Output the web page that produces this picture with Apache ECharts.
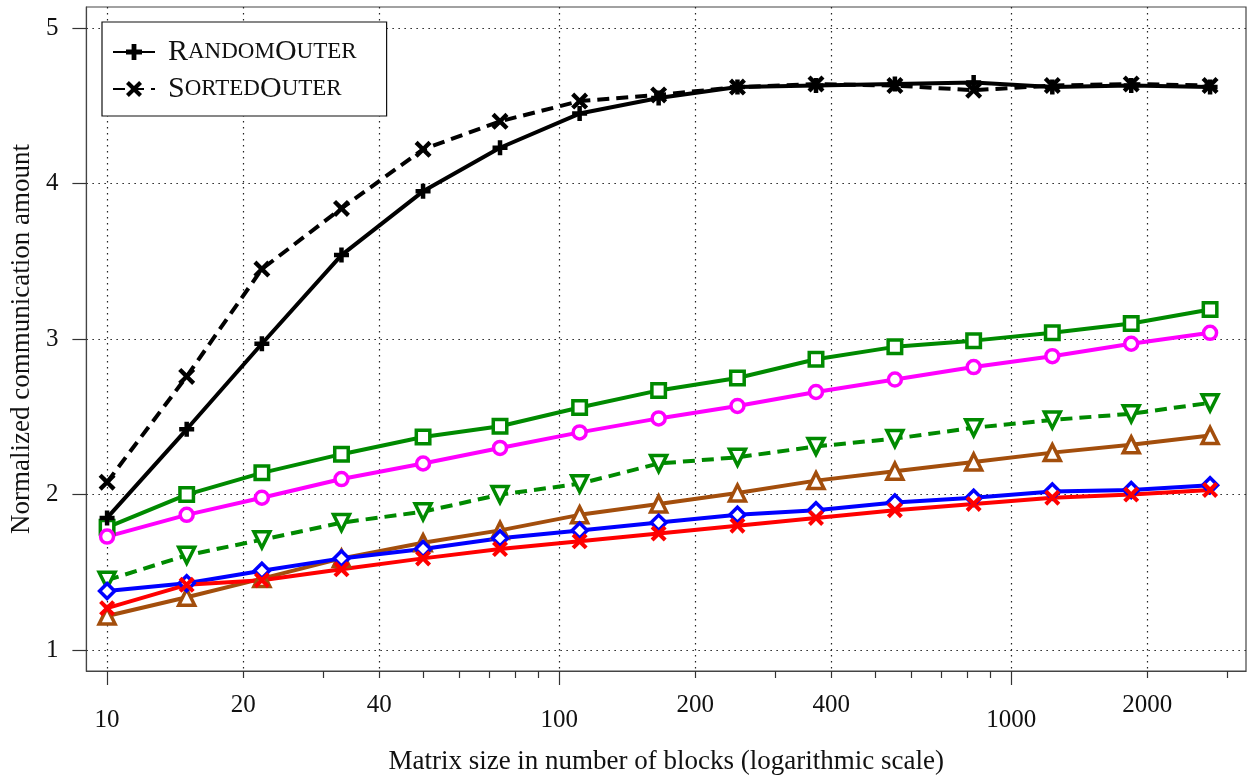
<!DOCTYPE html>
<html>
<head>
<meta charset="utf-8">
<script src="https://cdn.jsdelivr.net/npm/echarts@6/dist/echarts.min.js"></script>
<style>
html,body{margin:0;padding:0;background:#fff;}
#chart{width:1248px;height:780px;}
</style>
</head>
<body>
<div id="chart"></div>
<script>
// ---- data ----
const matrixSizes = [10, 15, 22, 33, 50, 74, 111, 166, 248, 370, 553, 826, 1233, 1843, 2754];
const randomOuter = [1.85, 2.42, 2.97, 3.54, 3.95, 4.23, 4.45, 4.55, 4.62, 4.63, 4.64, 4.65, 4.62, 4.63, 4.62];
const sortedOuter = [2.08, 2.76, 3.45, 3.84, 4.22, 4.40, 4.53, 4.57, 4.62, 4.64, 4.63, 4.60, 4.63, 4.64, 4.63];
const greenSquares = [1.79, 2.00, 2.14, 2.26, 2.37, 2.44, 2.56, 2.67, 2.75, 2.87, 2.95, 2.99, 3.04, 3.10, 3.19];
const magentaCircles = [1.73, 1.87, 1.98, 2.10, 2.20, 2.30, 2.40, 2.49, 2.57, 2.66, 2.74, 2.82, 2.89, 2.97, 3.04];
const greenTriangles = [1.45, 1.61, 1.71, 1.82, 1.89, 2.00, 2.07, 2.20, 2.24, 2.31, 2.36, 2.43, 2.48, 2.52, 2.59];
const brownTriangles = [1.22, 1.34, 1.46, 1.59, 1.69, 1.77, 1.87, 1.94, 2.01, 2.09, 2.15, 2.21, 2.27, 2.32, 2.38];
const blueDiamonds = [1.38, 1.43, 1.51, 1.59, 1.65, 1.72, 1.77, 1.82, 1.87, 1.90, 1.95, 1.98, 2.02, 2.03, 2.06];
const redCrosses = [1.27, 1.42, 1.45, 1.52, 1.59, 1.65, 1.70, 1.75, 1.80, 1.85, 1.90, 1.94, 1.98, 2.00, 2.03];

const xLabelsLow = [10, 100, 1000];
const xLabelsHigh = [20, 40, 200, 400, 2000];
const xMinorTicks = [20, 30, 40, 50, 60, 70, 80, 90, 200, 300, 400, 500, 600, 700, 800, 900, 2000, 3000];
const xGridValues = [10, 20, 40, 100, 200, 400, 1000, 2000];
const yTickValues = [1, 2, 3, 4, 5];
const legendNames = ['RandomOuter', 'SortedOuter'];

// ---- style ----
const FONT = 'Liberation Serif';
const PLUS = 'path://M3.5,0 H6.5 V3.5 H10 V6.5 H6.5 V10 H3.5 V6.5 H0 V3.5 H3.5 Z';
const CROSS = 'path://M0,1.8 L1.8,0 L5,3.2 L8.2,0 L10,1.8 L6.8,5 L10,8.2 L8.2,10 L5,6.8 L1.8,10 L0,8.2 L3.2,5 Z';
const LW = 4;

function pairs(vals) { return matrixSizes.map((x, i) => [x, vals[i]]); }

// hollow = white-filled shape with a thick coloured outline
function lineSeries(name, vals, color, symbol, size, dashed, opts) {
  const filled = symbol.startsWith('path://');
  return Object.assign({
    name: name,
    type: 'line',
    data: pairs(vals),
    symbol: symbol,
    symbolSize: size,
    showSymbol: true,
    lineStyle: { color: color, width: LW, type: dashed ? [12, 7] : 'solid' },
    itemStyle: filled ? { color: color, borderWidth: 0 } : { color: '#fff', borderColor: color, borderWidth: 3.5 },
    emphasis: { disabled: true },
    xAxisIndex: 0, yAxisIndex: 0
  }, opts || {});
}

const baseX = { type: 'log', logBase: 10, min: 9.0, max: 3307, gridIndex: 0, position: 'bottom' };
const fmt = v => String(Math.round(v));

const chart = echarts.init(document.getElementById('chart'), null, { renderer: 'canvas' });
chart.setOption({
  animation: false,
  backgroundColor: '#fff',
  textStyle: { fontFamily: FONT, color: '#111' },
  grid: { left: 85, right: 2, top: 7, bottom: 108.5, show: true, borderColor: '#444', borderWidth: 1.2, backgroundColor: 'transparent' },
  legend: {
    data: legendNames,
    orient: 'vertical',
    left: 102, top: 22,
    backgroundColor: '#fff',
    borderColor: '#111', borderWidth: 1.2,
    padding: [15, 30, 12, 10],
    itemWidth: 42, itemHeight: 20, itemGap: 7,
    inactiveColor: '#111',
    selectedMode: false,
    formatter: function (n) {
      if (n === 'RandomOuter') return '{b|R}{s|ANDOM}{b|O}{s|UTER}';
      return '{b|S}{s|ORTED}{b|O}{s|UTER}';
    },
    textStyle: {
      fontFamily: FONT, color: '#111', padding: [0, 0, 0, 8],
      rich: {
        b: { fontFamily: FONT, fontSize: 30, lineHeight: 30, color: '#111' },
        s: { fontFamily: FONT, fontSize: 23, lineHeight: 30, color: '#111' }
      }
    }
  },
  xAxis: [
    Object.assign({}, baseX, {
      name: 'Matrix size in number of blocks (logarithmic scale)',
      nameLocation: 'middle', nameGap: 77,
      nameTextStyle: { fontFamily: FONT, fontSize: 27, color: '#111' },
      axisLine: { show: true, lineStyle: { color: '#444', width: 1.2 } },
      axisTick: { show: true, customValues: xLabelsLow, length: 14, lineStyle: { color: '#333', width: 1.2 } },
      axisLabel: { show: true, customValues: xLabelsLow, formatter: fmt, margin: 37, fontFamily: FONT, fontSize: 25, color: '#111' },
      splitLine: { show: false }
    }),
    Object.assign({}, baseX, {
      axisLine: { show: false },
      axisTick: { show: true, customValues: xMinorTicks, length: 7, lineStyle: { color: '#333', width: 1.2 } },
      axisLabel: { show: true, customValues: xLabelsHigh, formatter: fmt, margin: 22, fontFamily: FONT, fontSize: 25, color: '#111' },
      splitLine: { show: false }
    }),
    Object.assign({}, baseX, {
      axisLine: { show: false },
      axisTick: { show: false, customValues: xGridValues },
      axisLabel: { show: false },
      splitLine: { show: true, lineStyle: { color: '#222', width: 1.2, type: [1.5, 4.5] } }
    })
  ],
  yAxis: [{
    type: 'value', min: 0.866, max: 5.135,
    name: 'Normalized communication amount',
    nameLocation: 'middle', nameGap: 50, nameRotate: 90,
    nameTextStyle: { fontFamily: FONT, fontSize: 27, color: '#111' },
    axisLine: { show: true, lineStyle: { color: '#444', width: 1.2 } },
    axisTick: { show: true, customValues: yTickValues, length: 14, lineStyle: { color: '#333', width: 1.2 } },
    axisLabel: { show: true, customValues: yTickValues, margin: 28, fontFamily: FONT, fontSize: 25, color: '#111' },
    splitLine: { show: true, lineStyle: { color: '#222', width: 1.2, type: [1.5, 4.5] } }
  }],
  series: [
    lineSeries('SortedOuter', sortedOuter, '#000', CROSS, 17, true, { z: 9 }),
    lineSeries('RandomOuter', randomOuter, '#000', PLUS, 15, false, { z: 10 }),
    lineSeries('s3', greenSquares, '#008a00', 'rect', 13.5, false),
    lineSeries('s4', magentaCircles, '#ff00ff', 'circle', 13, false),
    lineSeries('s5', greenTriangles, '#008a00', 'triangle', 16, true, { symbolRotate: 180 }),
    lineSeries('s6', brownTriangles, '#a34e0c', 'triangle', 16, false),
    lineSeries('s7', blueDiamonds, '#0000ff', 'diamond', 15, false),
    lineSeries('s8', redCrosses, '#ff0000', CROSS, 16, false)
  ]
});
</script>
</body>
</html>
